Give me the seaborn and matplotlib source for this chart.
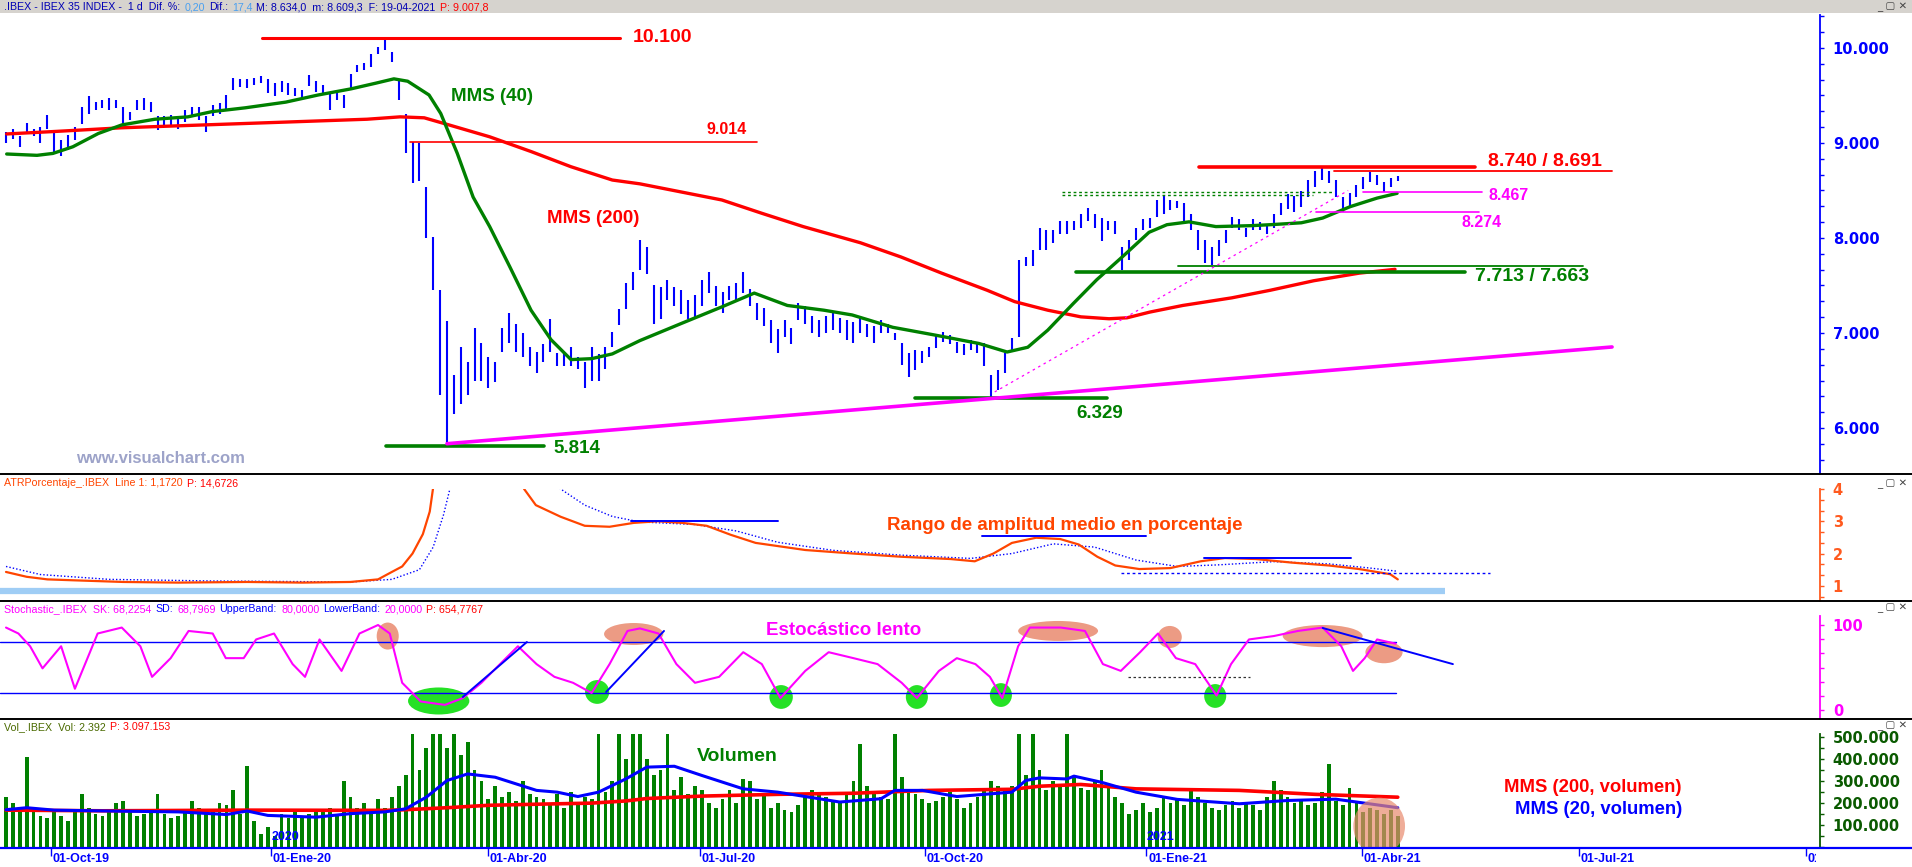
import numpy as np
import pandas as pd
import matplotlib
matplotlib.use("Agg")
import matplotlib.pyplot as plt
import matplotlib.transforms as mtransforms
from matplotlib.patches import Ellipse, Rectangle
from matplotlib.lines import Line2D
from matplotlib.ticker import MultipleLocator
import seaborn as sns

# ---------------------------------------------------------------- data
# IBEX 35 price bars (one bar = two sessions), highs / lows in points
bar_high = [9120, 9150, 9070, 9210, 9150, 9170, 9290, 9120, 9030, 9080,
            9170, 9380, 9490, 9430, 9450, 9470, 9450, 9380, 9330, 9450,
            9470, 9430, 9280, 9280, 9290, 9260, 9350, 9380, 9380, 9280,
            9400, 9420, 9510, 9680, 9670, 9670, 9680, 9710, 9670, 9630,
            9650, 9630, 9580, 9560, 9720, 9650, 9610, 9530, 9560, 9510,
            9730, 9820, 9840, 9940, 10010, 10110, 9960, 9660, 9310, 9010,
            9000, 8540, 8010, 7450, 7130, 6560, 6850, 6700, 7050, 6900,
            6750, 6700, 7050, 7210, 7100, 7000, 6850, 6800, 6880, 7150,
            6790, 6790, 6850, 6750, 6700, 6850, 6780, 6850, 7010, 7250,
            7530, 7640, 7980, 7900, 7500, 7480, 7560, 7480, 7450, 7350,
            7400, 7560, 7640, 7490, 7430, 7490, 7530, 7640, 7460, 7320,
            7260, 7140, 7040, 7140, 7050, 7320, 7280, 7180, 7140, 7180,
            7210, 7160, 7140, 7120, 7180, 7100, 7070, 7140, 7100, 7000,
            6890, 6790, 6820, 6810, 6850, 6980, 7010, 6980, 6910, 6880,
            6930, 6910, 6890, 6560, 6610, 6790, 6950, 7770, 7800, 7870,
            8100, 8080, 8080, 8180, 8180, 8180, 8250, 8320, 8250, 8210,
            8180, 8180, 7900, 7980, 8110, 8200, 8210, 8400, 8440, 8400,
            8390, 8370, 8250, 8080, 7980, 7910, 7980, 8080, 8220, 8200,
            8110, 8200, 8170, 8150, 8250, 8370, 8460, 8440, 8490, 8610,
            8700, 8740, 8700, 8610, 8430, 8470, 8560, 8640, 8691, 8660,
            8590, 8630, 8650]
bar_low = [9000, 9040, 8960, 9100, 9070, 9000, 9150, 8890, 8860, 8930,
           9030, 9200, 9310, 9350, 9370, 9350, 9370, 9200, 9240, 9350,
           9350, 9330, 9140, 9190, 9170, 9150, 9220, 9290, 9240, 9120,
           9280, 9310, 9350, 9560, 9590, 9580, 9610, 9630, 9530, 9490,
           9540, 9510, 9490, 9450, 9600, 9540, 9510, 9350, 9450, 9370,
           9560, 9750, 9770, 9800, 9940, 9980, 9850, 9450, 8890, 8580,
           8600, 8000, 7450, 6350, 5814, 6150, 6250, 6350, 6500, 6500,
           6420, 6480, 6800, 6900, 6800, 6750, 6650, 6580, 6700, 6800,
           6650, 6650, 6650, 6620, 6420, 6500, 6500, 6620, 6850, 7080,
           7250, 7450, 7660, 7620, 7100, 7150, 7350, 7280, 7200, 7150,
           7170, 7280, 7420, 7280, 7210, 7350, 7350, 7420, 7280, 7140,
           7070, 6890, 6790, 6960, 6880, 7140, 7100, 7000, 6960, 7000,
           7030, 7000, 6930, 6890, 7000, 6960, 6890, 7000, 7000, 6930,
           6660, 6540, 6610, 6680, 6750, 6840, 6910, 6880, 6790, 6770,
           6820, 6790, 6650, 6329, 6400, 6580, 6820, 6960, 7700, 7700,
           7870, 7870, 7950, 8040, 8040, 8080, 8110, 8180, 8110, 7970,
           8080, 8040, 7663, 7770, 7980, 8080, 8110, 8220, 8250, 8290,
           8320, 8180, 8080, 7870, 7740, 7713, 7810, 7950, 8110, 8080,
           8010, 8080, 8080, 8040, 8110, 8240, 8300, 8270, 8330, 8430,
           8540, 8610, 8580, 8430, 8274, 8330, 8430, 8520, 8590, 8560,
           8480, 8540, 8600]
# volume per bar, thousands
bar_volume = [230, 200, 180, 410, 160, 140, 130, 170, 140, 120,
              160, 240, 180, 150, 140, 170, 200, 210, 160, 140,
              150, 170, 240, 150, 130, 140, 160, 210, 180, 150,
              160, 200, 190, 260, 150, 370, 120, 60, 90, 50,
              150, 130, 160, 140, 150, 170, 160, 180, 150, 300,
              230, 180, 200, 150, 220, 180, 230, 280, 330, 520,
              350, 450, 520, 520, 450, 520, 420, 480, 350, 300,
              220, 280, 230, 250, 210, 300, 240, 230, 220, 200,
              240, 180, 250, 200, 230, 220, 520, 250, 300, 520,
              400, 520, 520, 400, 330, 350, 520, 260, 320, 240,
              280, 260, 200, 180, 220, 260, 200, 310, 300, 220,
              240, 180, 200, 170, 160, 190, 230, 260, 240, 230,
              210, 200, 250, 300, 470, 280, 240, 230, 220, 520,
              320, 260, 240, 220, 200, 210, 230, 250, 220, 180,
              200, 230, 260, 300, 280, 260, 280, 520, 330, 520,
              350, 260, 300, 280, 520, 320, 270, 260, 300, 350,
              280, 230, 200, 150, 170, 200, 160, 180, 230, 200,
              220, 190, 260, 230, 200, 180, 170, 190, 210, 180,
              200, 190, 170, 230, 300, 260, 230, 200, 220, 190,
              200, 250, 380, 210, 190, 270, 200, 160, 180, 170,
              150, 170, 140]

mms40_bars = [0.1, 4.5, 6.8, 9.7, 13.4, 16.8, 21.6, 26.4, 29.9, 34.7, 40.6, 45.3,
              50.1, 53.7, 56.3, 58.3, 61.4, 63.1, 65.5, 67.8, 70.2, 73.1, 76.2,
              79.1, 82, 85, 88, 92, 98, 103.9, 108.6, 113.4, 118.7, 122.8, 128.7,
              134.7, 141.2, 145.3, 148.3, 151.2, 154.9, 158.3, 162, 165.9, 168.5,
              171.7, 175.6, 180.8, 183.5, 188, 191.1, 195.1, 199, 201.9]
mms40 = [8884, 8870, 8890, 8960, 9100, 9190, 9250, 9275, 9330, 9370, 9430, 9505,
         9570, 9630, 9675, 9650, 9505, 9310, 8890, 8430, 8120, 7700, 7240, 6930,
         6720, 6730, 6780, 6920, 7100, 7275, 7420, 7290, 7240, 7190, 7060, 6980,
         6890, 6800, 6850, 7030, 7310, 7560, 7800, 8060, 8140, 8170, 8120, 8130,
         8140, 8160, 8210, 8330, 8420, 8470]
mms200_bars = [0.1, 6.8, 16.8, 28.7, 40.6, 52.4, 57.2, 60.7, 64.3, 70.2, 76.2, 82,
               88, 92, 103.9, 109.7, 115.7, 124, 129.9, 135.8, 142.4, 146.4, 151.2,
               156, 160.1, 162.7, 166, 170.8, 177.9, 183.5, 189.8, 196.4, 201.6]
mms200 = [9095, 9120, 9160, 9190, 9220, 9250, 9275, 9265, 9190, 9065, 8910, 8750,
          8610, 8570, 8400, 8260, 8120, 7950, 7800, 7630, 7450, 7330, 7240, 7170,
          7150, 7160, 7220, 7290, 7370, 7450, 7550, 7630, 7670]

volma200_bars = [0, 14, 35, 55, 58, 64, 70, 77, 85, 90, 93, 101, 112, 123, 134,
                 146, 150, 156, 164, 179, 190, 202]
vol_mms200 = [168, 165, 168, 167, 170, 179, 190, 195, 200, 210, 221, 232, 240,
              245, 258, 263, 277, 285, 265, 258, 240, 227]
volma20_bars = [0, 3, 7, 15, 25, 32, 35, 38, 45, 50, 55, 58, 61, 64, 67, 71, 77,
                80, 83, 86, 90, 93, 97, 101, 107, 112, 118, 121, 127, 129, 133,
                138, 146, 148, 150, 154, 155, 159, 164, 170, 179, 186, 193, 202]
vol_mms20 = [170, 179, 168, 164, 160, 148, 164, 144, 136, 152, 160, 174, 227,
             303, 333, 318, 258, 250, 230, 250, 311, 364, 368, 326, 265, 250,
             220, 205, 220, 258, 258, 230, 250, 303, 315, 310, 323, 295, 250,
             217, 197, 212, 218, 179]

atr_bars = [0, 3, 6, 10, 17, 25, 35, 43, 50, 54, 56, 57.5, 59, 60.5, 61.5, 62.3,
            64, 72, 75.2, 76.9, 80.5, 84, 87.6, 91.1, 94.6, 98.2, 101.7, 105.2,
            108.8, 116, 123, 130, 137.1, 140.6, 143.3, 146, 149.5, 153, 155.7,
            158.4, 161, 164.5, 169, 173.4, 176.9, 181.4, 186.6, 192, 196.4,
            200.9, 202]
atr_pct = [1.43, 1.28, 1.2, 1.17, 1.12, 1.1, 1.12, 1.1, 1.12, 1.2, 1.43, 1.6,
           2.0, 2.6, 3.3, 4.5, 6.0, 6.0, 4.0, 3.5, 3.14, 2.86, 2.83, 2.95, 3.0,
           2.95, 2.86, 2.58, 2.33, 2.11, 2.0, 1.9, 1.83, 1.76, 2.0, 2.33, 2.49,
           2.45, 2.28, 1.9, 1.63, 1.52, 1.55, 1.76, 1.86, 1.83, 1.72, 1.63,
           1.52, 1.36, 1.2]
atr_avg_bars = [0, 5, 15, 30, 50, 56, 60, 62, 63.5, 65, 72, 78, 80.5, 84, 88, 92,
                100, 106, 112, 120, 130, 140, 146, 152, 158, 164, 170, 176, 184,
                192, 198, 202]
atr_avg = [1.6, 1.35, 1.2, 1.15, 1.12, 1.2, 1.5, 2.2, 3.2, 4.5, 6.0, 4.6, 4.0,
           3.5, 3.15, 2.98, 2.9, 2.7, 2.35, 2.1, 1.95, 1.85, 2.0, 2.3, 2.2, 1.8,
           1.6, 1.65, 1.75, 1.68, 1.55, 1.45]

stoch_bars = [0, 1.8, 3.5, 5.3, 8, 10, 13.3, 16.8, 19.5, 21.2, 23.9, 26.5, 30,
              31.9, 34.5, 36.3, 38.9, 41.6, 43.4, 45.5, 48.7, 51.3, 54, 55.7,
              57.5, 60.2, 63.7, 66.3, 69, 71.7, 74.3, 77, 79.6, 82.3, 85, 87.6,
              90.2, 92, 94.7, 97.3, 100, 103.5, 107, 109.7, 112.4, 116, 119.4,
              123, 126.5, 130, 132.2, 135.4, 138, 140.7, 142.8, 144.6, 146.9,
              148.6, 153.1, 156.6, 159.2, 161.8, 164.6, 167.2, 169.8, 172.6,
              175.7, 177.8, 180.4, 184, 187.5, 191.1, 193.8, 195.5, 197.2, 199,
              201.7]
stoch_sk = [97, 90, 75, 49, 75, 25, 90, 97, 75, 39, 61, 93, 90, 61, 61, 83, 90,
            54, 39, 83, 46, 90, 100, 90, 32, 10, 6, 14, 32, 54, 75, 54, 39, 32,
            20, 54, 93, 96, 90, 54, 32, 39, 68, 54, 14, 46, 68, 61, 54, 32, 14,
            46, 61, 54, 39, 14, 75, 97, 97, 93, 54, 46, 68, 90, 61, 54, 17, 54,
            83, 87, 93, 97, 75, 46, 61, 83, 78]

month_bars = [6.53, 38.46, 69.96, 100.7, 133.4, 165.5, 196.8, 228.3, 261.2]
month_labels = ["01-Oct-19", "01-Ene-20", "01-Abr-20", "01-Jul-20", "01-Oct-20",
                "01-Ene-21", "01-Abr-21", "01-Jul-21", "01-Oct-21"]

# ---------------------------------------------------------------- layout
W, H = 1912, 867
X0, PXB = 6.0, 6.89            # pixel of bar 0, pixels per bar
AX_RIGHT = 1820
XL = ((0 - X0) / PXB, (AX_RIGHT - X0) / PXB)

sns.set_theme(style="white")
plt.rcParams['font.family'] = ['Liberation Sans', 'DejaVu Sans']
plt.rcParams['axes.linewidth'] = 1.2

fig = plt.figure(figsize=(W / 100, H / 100), dpi=100)
fig.patch.set_facecolor('white')


def add_ax(top, bottom):
    return fig.add_axes([0, 1 - bottom / H, AX_RIGHT / W, (bottom - top) / H])


def style_ax(ax, color, ylim, major, labels, minor):
    ax.set_xlim(XL)
    ax.set_ylim(ylim)
    ax.set_facecolor('none')
    for s in ['left', 'top', 'bottom']:
        ax.spines[s].set_visible(False)
    ax.spines['right'].set_color(color)
    ax.spines['right'].set_linewidth(1.3)
    ax.yaxis.tick_right()
    ax.set_yticks(major)
    ax.set_yticklabels(labels, fontweight='bold', family='DejaVu Sans')
    ax.yaxis.set_minor_locator(MultipleLocator(minor))
    ax.tick_params(axis='y', which='both', direction='out', colors=color,
                   length=3.2, width=1.0, pad=6, labelsize=10.5)
    ax.tick_params(axis='x', which='both', bottom=False, labelbottom=False)
    ax.set_xlabel('')
    ax.set_ylabel('')
    ax.grid(False)


def line(ax, x, y, **kw):
    sns.lineplot(x=x, y=y, ax=ax, estimator=None, sort=False, legend=False, **kw)


bars = np.arange(len(bar_high))
ann_font = dict(fontweight='bold', family='Liberation Sans', va='center', ha='left', clip_on=False)

# ---------------- price panel
axp = add_ax(15, 474)
axp.vlines(bars, bar_low, bar_high, colors='#0000ff', linewidth=1.5)
line(axp, mms200_bars, mms200, color='#ff0000', lw=2.4)
line(axp, mms40_bars, mms40, color='#008000', lw=2.4)
style_ax(axp, '#0000ff', (5516, 10347), [6000, 7000, 8000, 9000, 10000],
         ['6.000', '7.000', '8.000', '9.000', '10.000'], 1000 / 6)

# support / resistance annotations
axp.plot([37.2, 89.1], [10110, 10110], color='#ff0000', lw=2.2)
axp.plot([58.6, 109.0], [9014, 9014], color='#ff0000', lw=1.2)
axp.plot([55.2, 78.1], [5814, 5814], color='#008000', lw=2.6)
axp.plot([131.9, 159.8], [6320, 6320], color='#008000', lw=2.6)
axp.plot([173.1, 213.2], [8745, 8745], color='#ff0000', lw=2.6)
axp.plot([192.7, 233.1], [8700, 8700], color='#ff0000', lw=1.3)
axp.plot([197.0, 214.2], [8484, 8484], color='#ff00ff', lw=1.2)
axp.plot([190.1, 213.8], [8274, 8274], color='#ff00ff', lw=1.2)
axp.plot([170.1, 228.9], [7705, 7705], color='#008000', lw=1.3)
axp.plot([155.3, 211.8], [7642, 7642], color='#008000', lw=2.6)
axp.plot([153.3, 192.5], [8484, 8484], color='#008000', lw=1.0, ls=(0, (2, 2)))
axp.plot([153.3, 189.7], [8453, 8453], color='#008000', lw=1.0, ls=(0, (2, 2)))
axp.plot([64.0, 233.1], [5835, 6853], color='#ff00ff', lw=2.6)
axp.plot([143.5, 194.8], [6380, 8500], color='#ff00ff', lw=0.9, ls=(0, (2, 3)))

axp.text(90.9, 10105, '10.100', color='#ff0000', fontsize=14, **ann_font)
axp.text(101.7, 9137, '9.014', color='#ff0000', fontsize=11.5, **ann_font)
axp.text(64.6, 9484, 'MMS (40)', color='#008000', fontsize=13.5, **ann_font)
axp.text(78.5, 8210, 'MMS (200)', color='#ff0000', fontsize=13.5, **ann_font)
axp.text(79.5, 5789, '5.814', color='#008000', fontsize=13.5, **ann_font)
axp.text(155.4, 6158, '6.329', color='#008000', fontsize=13.5, **ann_font)
axp.text(215.1, 8800, '8.740 / 8.691', color='#ff0000', fontsize=14, **ann_font)
axp.text(215.2, 8442, '8.467', color='#ff00ff', fontsize=11.5, **ann_font)
axp.text(211.3, 8168, '8.274', color='#ff00ff', fontsize=11.5, **ann_font)
axp.text(213.2, 7590, '7.713 / 7.663', color='#008000', fontsize=14, **ann_font)
axp.text(10.2, 5684, 'www.visualchart.com', color='#9da3c9', fontsize=12, **ann_font)

# ---------------- ATR panel
axa = add_ax(489, 601)
axa.plot([XL[0], 208.9], [0.845, 0.845], color='#9fcdf5', lw=4.5, solid_capstyle='butt')
line(axa, atr_avg_bars, atr_avg, color='#0000ff', lw=1.0, ls=(0, (1, 1.5)))
line(axa, atr_bars, atr_pct, color='#ff4500', lw=1.6)
style_ax(axa, '#ff5a1f', (0.53, 4.0), [1, 2, 3, 4], ['1', '2', '3', '4'], 1 / 3)
axa.plot([90.7, 112.0], [3.0, 3.0], color='#0000ff', lw=1.4)
axa.plot([141.7, 165.5], [2.53, 2.53], color='#0000ff', lw=1.4)
axa.plot([173.9, 195.2], [1.85, 1.85], color='#0000ff', lw=1.4)
axa.plot([161.8, 215.4], [1.4, 1.4], color='#0000ff', lw=1.0, ls=(0, (2, 2)))
axa.text(127.9, 2.86, 'Rango de amplitud medio en porcentaje', color='#ff4500', fontsize=13.5, **ann_font)

# ---------------- Stochastic panel
axs = add_ax(616, 719)
axs.plot([XL[0], 201.7], [80, 80], color='#0000ff', lw=1.0)
axs.plot([XL[0], 201.7], [20, 20], color='#0000ff', lw=1.0)
salmon = '#e98a6e'
green_e = '#19e019'
for (cx, cy, w, h) in [(55.4, 87, 3.2, 31.8), (91.1, 89.4, 8.6, 25.9), (152.7, 93, 11.6, 23.5),
                       (168.9, 85.9, 3.5, 26), (191.1, 87, 11.6, 26), (200.0, 68, 5.4, 26)]:
    axs.add_patch(Ellipse((cx, cy), w, h, facecolor=salmon, edgecolor='none', alpha=0.85, zorder=1))
for (cx, cy, w, h) in [(62.8, 10.6, 8.9, 31.8), (85.8, 21.2, 3.5, 28), (112.5, 15.3, 3.4, 28),
                       (132.2, 15.3, 3.2, 28), (144.4, 17.6, 3.2, 28), (175.5, 16.5, 3.2, 28)]:
    axs.add_patch(Ellipse((cx, cy), w, h, facecolor=green_e, edgecolor='none', alpha=0.95, zorder=1))
line(axs, stoch_bars, stoch_sk, color='#ff00ff', lw=1.5)
style_ax(axs, '#ff00ff', (-10.6, 110.6), [0, 100], ['0', '100'], 100 / 6)
axs.plot([66.3, 75.6], [15.3, 80], color='#0000ff', lw=1.4)
axs.plot([87.1, 95.5], [21.2, 93], color='#0000ff', lw=1.4)
axs.plot([191.1, 210.0], [96.5, 54], color='#0000ff', lw=1.4)
axs.plot([162.8, 180.5], [38.8, 38.8], color='#333333', lw=0.9, ls=(0, (2, 2)))
axs.text(110.3, 94, 'Estocástico lento', color='#ff00ff', fontsize=13.5, **ann_font)

# ---------------- Volume panel
axv = add_ax(734, 847)
axv.bar(bars, bar_volume, width=0.55, color='#008000', linewidth=0)
line(axv, volma200_bars, vol_mms200, color='#ff0000', lw=2.6)
line(axv, volma20_bars, vol_mms20, color='#0000ff', lw=2.2)
axv.add_patch(Ellipse((199.3, 95), 7.5, 260, facecolor=salmon, edgecolor='none', alpha=0.7, zorder=3))
style_ax(axv, '#0a5a00', (0, 515), [100, 200, 300, 400, 500],
         ['100.000', '200.000', '300.000', '400.000', '500.000'], 50)
axv.text(100.3, 414, 'Volumen', color='#008000', fontsize=14, **ann_font)
axv.text(217.4, 273, 'MMS (200, volumen)', color='#ff0000', fontsize=13.3, **ann_font)
axv.text(219.0, 173, 'MMS (20, volumen)', color='#0000ff', fontsize=13.3, **ann_font)
axv.text(38.5, 45, '2020', color='#0000ff', fontsize=9, **ann_font)
axv.text(165.6, 45, '2021', color='#0000ff', fontsize=9, **ann_font)

# month ticks on the time axis
axv.set_xticks(month_bars)
axv.tick_params(axis='x', which='major', bottom=True, direction='out', length=6.5,
                width=1.0, color='#0000ff', labelbottom=False)
clip_rect = mtransforms.TransformedBbox(mtransforms.Bbox([[0, 0], [1816 / W, 1]]), fig.transFigure)
xt = mtransforms.blended_transform_factory(axv.transData, fig.transFigure)
for b, lab in zip(month_bars, month_labels):
    t = axv.text(b + 0.25, 1 - 853 / H, lab, transform=xt, color='#0000ff', fontsize=9,
                 fontweight='bold', ha='left', va='top', family='Liberation Sans', clip_on=True)
    t.set_clip_box(clip_rect)

# ---------------- frame: title bar, dividers, bottom axis
fig.patches.append(Rectangle((0, 1 - 13 / H), 1, 13 / H, transform=fig.transFigure,
                             facecolor='#d6d3ce', edgecolor='none', zorder=0))
for yy in [474, 601, 719]:
    fig.add_artist(Line2D([0, 1], [1 - yy / H, 1 - yy / H], transform=fig.transFigure, color='black', lw=1.4))
fig.add_artist(Line2D([0, 1], [1 - 847.5 / H, 1 - 847.5 / H], transform=fig.transFigure, color='#0000ff', lw=1.6))

renderer = fig.canvas.get_renderer()


def header(y_px, parts, size=7.7):
    x = 4.0
    for s, c in parts:
        t = fig.text(x / W, 1 - y_px / H, s, color=c, fontsize=size, ha='left', va='center',
                     family='Liberation Sans')
        x += t.get_window_extent(renderer=renderer).width + 4.0


dblue, lblue, red = '#0000b4', '#4aa0f0', '#ff0000'
header(7, [('.IBEX - IBEX 35 INDEX -  1 d  Dif. %:', dblue), ('0,20', lblue), ('Dif.:', dblue),
           ('17,4', lblue), ('M: 8.634,0  m: 8.609,3  F: 19-04-2021', dblue), ('P: 9.007,8', red)])
header(483, [('ATRPorcentaje_.IBEX  Line 1: 1,1720', '#ff4500'), ('P: 14,6726', red)])
header(609, [('Stochastic_.IBEX  SK: 68,2254', '#ff00ff'), ('SD:', '#0000ff'), ('68,7969', '#ff00ff'),
             ('UpperBand:', '#0000ff'), ('80,0000', '#ff00ff'), ('LowerBand:', '#0000ff'),
             ('20,0000', '#ff00ff'), ('P: 654,7767', red)])
header(727, [('Vol_.IBEX  Vol: 2.392', '#4a6a00'), ('P: 3.097.153', red)])

for yy in [7, 484, 608, 726]:
    fig.text(1892 / W, 1 - yy / H, '_ ▢ ✕', color='#444444', fontsize=7.5, ha='center', va='center',
             family='DejaVu Sans')

fig.savefig('out.png', dpi=100, facecolor='white')
